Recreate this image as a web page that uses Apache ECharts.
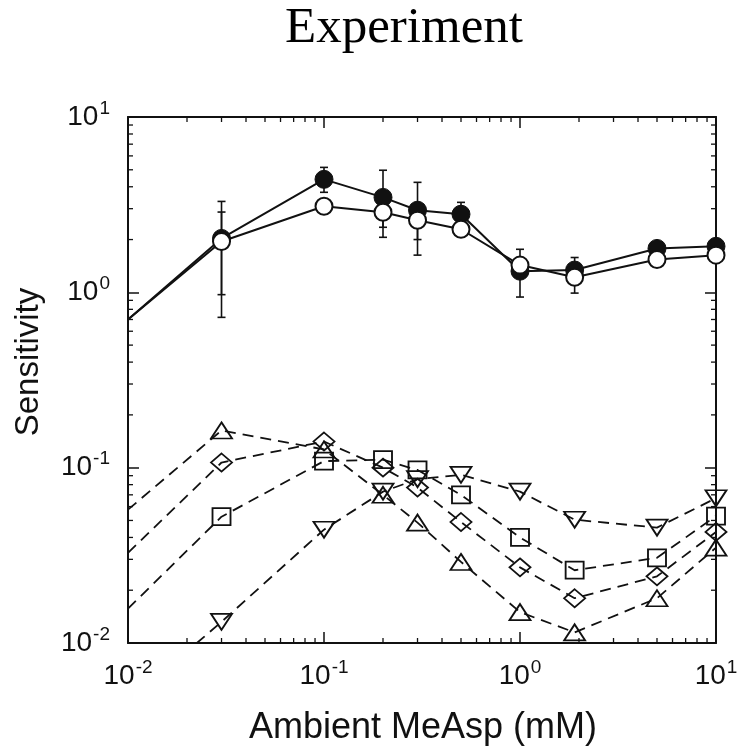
<!DOCTYPE html>
<html>
<head>
<meta charset="utf-8">
<script src="https://cdn.jsdelivr.net/npm/echarts@6/dist/echarts.min.js"></script>
<style>
html,body{margin:0;padding:0;background:#fff;}
#chart{width:746px;height:750px;}
</style>
</head>
<body>
<div id="chart"></div>
<script>
// ---- data ----
const xValues = [0.01, 0.03, 0.1, 0.2, 0.3, 0.5, 1, 1.9, 5, 10];
// first point (0.01) is where the curve leaves the left frame; no marker there
const filledCircle = [0.70, 2.03, 4.41, 3.48, 2.94, 2.79, 1.32, 1.34, 1.78, 1.83];
const openCircle   = [0.70, 1.95, 3.10, 2.86, 2.58, 2.29, 1.43, 1.22, 1.54, 1.63];
const upTriangle   = [0.0576, 0.163, 0.127, 0.070, 0.0486, 0.029, 0.015, 0.0115, 0.018, 0.035];
const diamondVals  = [0.0327, 0.107, 0.141, 0.100, 0.077, 0.049, 0.027, 0.018, 0.024, 0.043];
const squareVals   = [0.0157, 0.0525, 0.109, 0.111, 0.097, 0.070, 0.040, 0.026, 0.0306, 0.053];
const downTriangle = [0.0046, 0.0132, 0.0443, 0.073, 0.086, 0.091, 0.073, 0.0505, 0.0455, 0.067];

const filledErrLow  = [null, 0.72, 3.72, 2.06, 1.63, 2.40, 0.94, 0.99, null, null];
const filledErrHigh = [null, 3.30, 5.16, 4.97, 4.24, 3.26, 1.76, 1.58, null, null];
const openErrLow    = [null, 0.97, null, 2.35, 2.00, null, null, null, null, null];
const openErrHigh   = [null, 2.87, null, 3.30, 3.10, null, null, null, null, null];

const xTickExponents = ['-2', '-1', '0', '1'];
const yTickExponents = ['-2', '-1', '0', '1'];
const minorTickValues = [0.02,0.03,0.04,0.05,0.06,0.07,0.08,0.09,
                         0.2,0.3,0.4,0.5,0.6,0.7,0.8,0.9,
                         2,3,4,5,6,7,8,9];
const titleText = 'Experiment';
const xAxisTitle = 'Ambient MeAsp (mM)';
const yAxisTitle = 'Sensitivity';

// ---- chart ----
const INK = '#111';
const X_MIN = 0.01, X_MAX = 10, Y_MIN = 0.01, Y_MAX = 10;

function pairs(vals, noMarkerFirst) {
  return xValues.map((x, i) => {
    const item = { value: [x, vals[i]] };
    if (i === 0 && noMarkerFirst) item.symbol = 'none';
    return item;
  });
}
function errData(lo, hi) {
  const out = [];
  xValues.forEach((x, i) => { if (lo[i] != null) out.push([x, lo[i], hi[i]]); });
  return out;
}
function expLabel(exps) {
  return function (v) {
    const e = Math.round(Math.log10(v));
    return '{b|10}{s|' + exps[e + 2] + '}';
  };
}
const richLabel = {
  b: { fontSize: 28, fontFamily: 'Liberation Sans, Arial, sans-serif', color: INK },
  s: { fontSize: 19, fontFamily: 'Liberation Sans, Arial, sans-serif', color: INK, padding: [0, 0, 17, 1] }
};

const errRender = function (params, api) {
  const x = api.value(0);
  const lo = api.coord([x, api.value(1)]);
  const hi = api.coord([x, api.value(2)]);
  const w = 4;
  const st = { stroke: INK, lineWidth: 1.6 };
  return {
    type: 'group',
    children: [
      { type: 'line', shape: { x1: lo[0], y1: lo[1], x2: hi[0], y2: hi[1] }, style: st },
      { type: 'line', shape: { x1: lo[0] - w, y1: lo[1], x2: lo[0] + w, y2: lo[1] }, style: st },
      { type: 'line', shape: { x1: hi[0] - w, y1: hi[1], x2: hi[0] + w, y2: hi[1] }, style: st }
    ]
  };
};

const minorLen = 5;
const minorXRender = function (params, api) {
  const v = api.value(0);
  const b = api.coord([v, Y_MIN]);
  const t = api.coord([v, Y_MAX]);
  const st = { stroke: INK, lineWidth: 1.3 };
  return { type: 'group', children: [
    { type: 'line', shape: { x1: b[0], y1: b[1], x2: b[0], y2: b[1] - minorLen }, style: st },
    { type: 'line', shape: { x1: t[0], y1: t[1], x2: t[0], y2: t[1] + minorLen }, style: st }
  ]};
};
const minorYRender = function (params, api) {
  const v = api.value(1);
  const l = api.coord([X_MIN, v]);
  const r = api.coord([X_MAX, v]);
  const st = { stroke: INK, lineWidth: 1.3 };
  return { type: 'group', children: [
    { type: 'line', shape: { x1: l[0], y1: l[1], x2: l[0] + minorLen, y2: l[1] }, style: st },
    { type: 'line', shape: { x1: r[0], y1: r[1], x2: r[0] - minorLen, y2: r[1] }, style: st }
  ]};
};

const dashStyle = { color: INK, width: 1.8, type: [11, 7] };
const openMarker = { color: 'rgba(255,255,255,0)', borderColor: INK, borderWidth: 1.8 };

function axisCommon() {
  return {
    type: 'log', logBase: 10,
    axisLine: { show: true, onZero: false, lineStyle: { color: INK, width: 2 } },
    axisTick: { show: true, inside: true, length: 11, lineStyle: { color: INK, width: 1.5 } },
    splitLine: { show: false },
    minorTick: { show: false },
    axisLabel: { show: false }
  };
}

const option = {
  backgroundColor: '#fff',
  animation: false,
  grid: { left: 128, right: 30, top: 117, bottom: 107 },
  xAxis: [
    Object.assign(axisCommon(), { min: X_MIN, max: X_MAX, position: 'bottom',
      axisLabel: { show: true, formatter: expLabel(xTickExponents), rich: richLabel, margin: 15 } }),
    Object.assign(axisCommon(), { min: X_MIN, max: X_MAX, position: 'top' })
  ],
  yAxis: [
    Object.assign(axisCommon(), { min: Y_MIN, max: Y_MAX, position: 'left',
      axisLabel: { show: true, formatter: expLabel(yTickExponents), rich: richLabel, margin: 18 } }),
    Object.assign(axisCommon(), { min: Y_MIN, max: Y_MAX, position: 'right' })
  ],
  graphic: [
    { type: 'text', x: 404, y: 29, style: { text: titleText, font: '51px "Liberation Serif", "Times New Roman", serif', fill: '#000', x: 0, y: 0, textAlign: 'center', textVerticalAlign: 'middle' } },
    { type: 'text', x: 423, y: 728, style: { text: xAxisTitle, font: '36px "Liberation Sans", Arial, sans-serif', fill: INK, x: 0, y: 0, textAlign: 'center', textVerticalAlign: 'middle' } },
    { type: 'text', x: 29, y: 362, rotation: Math.PI / 2, style: { text: yAxisTitle, font: '33px "Liberation Sans", Arial, sans-serif', fill: INK, x: 0, y: 0, textAlign: 'center', textVerticalAlign: 'middle' } }
  ],
  series: [
    { type: 'custom', name: 'minorX', renderItem: minorXRender, data: minorTickValues.map(v => [v, 1]), z: 1, silent: true },
    { type: 'custom', name: 'minorY', renderItem: minorYRender, data: minorTickValues.map(v => [1, v]), z: 1, silent: true },
    { type: 'custom', name: 'errFilled', renderItem: errRender, data: errData(filledErrLow, filledErrHigh), encode: { x: 0, y: [1, 2] }, z: 1 },
    { type: 'custom', name: 'errOpen', renderItem: errRender, data: errData(openErrLow, openErrHigh), encode: { x: 0, y: [1, 2] }, z: 1 },
    { type: 'line', name: 'upTriangle', data: pairs(upTriangle, true), symbol: 'triangle', symbolSize: [21, 16],
      lineStyle: dashStyle, itemStyle: openMarker, clip: true, z: 2 },
    { type: 'line', name: 'diamond', data: pairs(diamondVals, true), symbol: 'diamond', symbolSize: [21, 18],
      lineStyle: dashStyle, itemStyle: openMarker, clip: true, z: 2 },
    { type: 'line', name: 'square', data: pairs(squareVals, true), symbol: 'rect', symbolSize: [18, 17],
      lineStyle: dashStyle, itemStyle: openMarker, clip: true, z: 2 },
    { type: 'line', name: 'downTriangle', data: pairs(downTriangle, true), symbol: 'triangle', symbolRotate: 180, symbolSize: [21, 16],
      lineStyle: dashStyle, itemStyle: openMarker, clip: true, z: 2 },
    { type: 'line', name: 'filled', data: pairs(filledCircle, true), symbol: 'circle', symbolSize: 18,
      lineStyle: { color: INK, width: 2 }, itemStyle: { color: INK, borderColor: INK, borderWidth: 1 }, clip: true, z: 3 },
    { type: 'line', name: 'open', data: pairs(openCircle, true), symbol: 'circle', symbolSize: 17,
      lineStyle: { color: INK, width: 2 }, itemStyle: { color: '#fff', borderColor: INK, borderWidth: 2 }, clip: true, z: 4 }
  ]
};

const chart = echarts.init(document.getElementById('chart'), null, { renderer: 'canvas' });
chart.setOption(option);
</script>
</body>
</html>
